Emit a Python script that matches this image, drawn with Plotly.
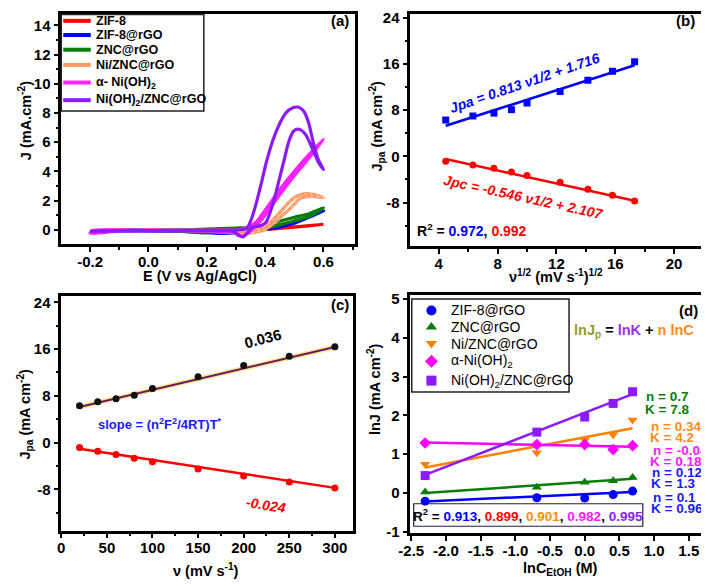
import plotly.graph_objects as go

W, H = 709, 586
OFF = 8  # the page body margin shifts the figure by this many pixels
FONT = "Liberation Sans"

# ---------------- Panel (a): cyclic voltammograms (E / V, J / mA cm-2) ----------------
ZIF8_E = [-0.20, -0.10, 0.00, 0.10, 0.20, 0.30, 0.35, 0.40, 0.45, 0.50, 0.55, 0.60,
          0.50, 0.40, 0.30, 0.20, 0.10, 0.00, -0.10, -0.20]
ZIF8_J = [-0.05, -0.03, -0.02, -0.02, -0.03, -0.02, 0.00, 0.05, 0.12, 0.20, 0.28, 0.38,
          0.18, 0.02, -0.06, -0.06, -0.05, -0.05, -0.05, -0.05]

ZIF8RGO_E = [-0.20, -0.10, 0.00, 0.10, 0.20, 0.25, 0.30, 0.35, 0.40, 0.45, 0.50, 0.55, 0.60,
             0.50, 0.40, 0.30, 0.20, 0.10, 0.00, -0.10, -0.20]
ZIF8RGO_J = [-0.10, -0.08, -0.08, -0.10, -0.20, -0.25, -0.22, -0.10, 0.07, 0.25, 0.50, 0.85, 1.30,
             0.45, 0.02, -0.15, -0.15, -0.10, -0.08, -0.08, -0.10]

ZNC_E = [-0.20, -0.10, 0.00, 0.10, 0.20, 0.30, 0.35, 0.40, 0.45, 0.50, 0.55, 0.60,
         0.55, 0.50, 0.45, 0.40, 0.35, 0.30, 0.20, 0.10, 0.00, -0.10, -0.20]
ZNC_J = [-0.05, -0.05, -0.05, -0.02, 0.05, 0.12, 0.15, 0.35, 0.60, 0.85, 1.10, 1.50,
         0.90, 0.60, 0.35, 0.12, 0.00, -0.10, -0.20, -0.10, -0.05, -0.05, -0.05]

NIZNC_E = [-0.20, -0.10, 0.00, 0.10, 0.20, 0.30, 0.35, 0.38, 0.40, 0.42, 0.44, 0.46, 0.48, 0.50,
           0.52, 0.54, 0.56, 0.58, 0.60,
           0.58, 0.56, 0.54, 0.52, 0.50, 0.48, 0.46, 0.44, 0.42, 0.40, 0.37, 0.34, 0.32, 0.30,
           0.20, 0.10, 0.00, -0.10, -0.20]
NIZNC_J = [-0.05, -0.05, -0.05, -0.05, -0.05, -0.10, -0.05, 0.05, 0.25, 0.55, 0.95, 1.40, 1.85, 2.20,
           2.40, 2.48, 2.45, 2.35, 2.20,
           2.25, 2.30, 2.25, 2.15, 1.75, 1.35, 1.00, 0.60, 0.30, 0.00, -0.15, -0.25, -0.30, -0.20,
           -0.10, -0.05, -0.05, -0.05, -0.05]

ANIOH_E = [-0.20, -0.19, -0.10, 0.00, 0.10, 0.20, 0.30, 0.34, 0.37, 0.40, 0.45, 0.50, 0.55, 0.60,
           0.55, 0.50, 0.45, 0.40, 0.37, 0.34, 0.32, 0.30, 0.20, 0.10, 0.00, -0.10, -0.20]
ANIOH_J = [-0.25, -0.05, -0.02, -0.02, -0.02, -0.02, 0.00, 0.15, 0.55, 1.35, 2.75, 4.00, 5.15, 6.20,
           4.90, 3.70, 2.40, 1.00, 0.30, -0.25, -0.45, -0.20, -0.08, -0.06, -0.06, -0.08, -0.25]

NIOHZNC_E = [-0.20, -0.10, 0.00, 0.10, 0.20, 0.30, 0.336, 0.353, 0.370, 0.387, 0.403, 0.426, 0.448,
             0.471, 0.493, 0.516, 0.533, 0.549, 0.566, 0.583, 0.600,
             0.585, 0.572, 0.555, 0.538, 0.516, 0.499, 0.482, 0.465, 0.448, 0.431, 0.415, 0.403,
             0.387, 0.358, 0.336, 0.325, 0.308, 0.291, 0.20, 0.10, 0.00, -0.10, -0.20]
NIOHZNC_J = [-0.10, -0.05, -0.05, -0.05, -0.05, -0.02, 0.07, 0.74, 1.86, 3.20, 4.54, 6.10, 7.20,
             8.00, 8.34, 8.39, 8.10, 7.34, 5.90, 4.77, 4.14,
             4.54, 5.10, 5.88, 6.55, 6.89, 6.78, 6.10, 4.77, 3.42, 2.08, 1.07, 0.51,
             0.29, 0.18, -0.27, -0.49, -0.38, -0.11, -0.08, -0.08, -0.08, -0.08, -0.10]

A_NAMES = ["ZIF-8", "ZIF-8@rGO", "ZNC@rGO", "Ni/ZNC@rGO", "α- Ni(OH)<sub>2</sub>",
           "Ni(OH)<sub>2</sub>/ZNC@rGO"]
A_COLORS = ["#ff0000", "#0000ff", "#0a7d0a", "#ff9a66", "#ff22ff", "#8c1aff"]
A_XTICKS = [-0.2, 0.0, 0.2, 0.4, 0.6]
A_XTEXT = ["-0.2", "0.0", "0.2", "0.4", "0.6"]
A_YTICKS = [0, 2, 4, 6, 8, 10, 12, 14]

# ---------------- Panels (b) and (c): peak currents vs scan rate ----------------
SCAN_RATE = [20, 40, 60, 80, 100, 150, 200, 250, 300]
SQRT_SCAN = [4.47, 6.32, 7.75, 8.94, 10.0, 12.25, 14.14, 15.81, 17.32]
JPA = [6.3, 7.0, 7.5, 8.1, 9.25, 11.25, 13.2, 14.75, 16.4]
JPC = [-0.85, -1.5, -2.05, -2.7, -3.3, -4.5, -5.7, -6.75, -7.75]
B_FIT_X = [4.47, 17.32]
B_FIT_PA = [5.3, 15.8]
B_FIT_PC = [-0.45, -7.7]
C_FIT_X = [20, 300]
C_FIT_PA = [6.1, 16.35]
C_FIT_PC = [-1.05, -7.75]
BC_YTICKS = [-8, 0, 8, 16, 24]
BC_YTEXT = ["-8", "0", "8", "16", "24"]
B_XTICKS = [4, 8, 12, 16, 20]
C_XTICKS = [0, 50, 100, 150, 200, 250, 300]

# ---------------- Panel (d): ln J vs ln C ----------------
LNC = [-2.30, -0.69, 0.0, 0.41, 0.69]
D_NAMES = ["ZIF-8@rGO", "ZNC@rGO", "Ni/ZNC@rGO", "α-Ni(OH)<sub>2</sub>", "Ni(OH)<sub>2</sub>/ZNC@rGO"]
D_COLORS = ["#0000ff", "#0a7d0a", "#ff8000", "#ff00ff", "#8c1aff"]
D_SYMBOLS = ["circle", "triangle-up", "triangle-down", "diamond", "square"]
D_ZIF = [-0.21, -0.12, -0.13, -0.04, 0.05]
D_ZNC = [0.03, 0.15, 0.28, 0.32, 0.40]
D_NIZNC = [0.74, 1.04, 1.36, 1.50, 1.88]
D_ANIOH = [1.29, 1.25, 1.25, 1.12, 1.22]
D_NIOHZNC = [0.45, 1.57, 1.96, 2.31, 2.61]
D_FIT_X = [-2.30, 0.69]
D_FITS = [[-0.22, 0.03], [0.0, 0.37], [0.66, 1.67], [1.30, 1.19], [0.47, 2.55]]
D_XTICKS = [-2.5, -2.0, -1.5, -1.0, -0.5, 0.0, 0.5, 1.0, 1.5]
D_XTEXT = ["-2.5", "-2.0", "-1.5", "-1.0", "-0.5", "0.0", "0.5", "1.0", "1.5"]
D_YTICKS = [-1, 0, 1, 2, 3, 4, 5]
D_YTEXT = ["-1", "0", "1", "2", "3", "4", "5"]
D_NK_TEXT = ["n = 0.7", "K = 7.8", "n = 0.34", "K = 4.2", "n = -0.04", "K = 0.18",
             "n = 0.12", "K = 1.3", "n = 0.1", "K = 0.96"]
D_NK_COLORS = ["#0a7d0a", "#0a7d0a", "#ff8c1a", "#ff8c1a", "#ff1aff", "#ff1aff",
               "#1a1aff", "#1a1aff", "#1a1aff", "#1a1aff"]

# ---------------- layout geometry (window pixels) ----------------
TOPMIN = 9.5
FRAMES = {  # left, top, right, bottom
    "a": (50, TOPMIN, 349, 244),
    "b": (405, TOPMIN, 705, 246),
    "c": (50, 296.5, 346.5, 536.5),
    "d": (405, 296, 703, 539),
}
# axis calibration: (value1, pixel1, value2, pixel2)
CAL_X = {"a": (-0.2, 79.3, 0.6, 316.7), "b": (4, 434, 20, 673.3),
         "c": (0, 50, 300, 328.3), "d": (-2.5, 406, 1.5, 688.3)}
CAL_Y = {"a": (0, 229.3, 14, 20.7), "b": (-8, 200.7, 24, 9.0),
         "c": (-8, 494.3, 24, 303.3), "d": (-1, 537.7, 5, 300)}


def lin(cal, p):
    v1, p1, v2, p2 = cal
    return v1 + (p - p1) * (v2 - v1) / (p2 - p1)


def xdom(k):
    l, t, r, b = FRAMES[k]
    return [(l - OFF) / W, (r - OFF) / W]


def ydom(k):
    l, t, r, b = FRAMES[k]
    return [1 - (b - OFF) / H, 1 - (t - OFF) / H]


def xrng(k):
    l, t, r, b = FRAMES[k]
    return [lin(CAL_X[k], l), lin(CAL_X[k], r)]


def yrng(k):
    l, t, r, b = FRAMES[k]
    return [lin(CAL_Y[k], b), lin(CAL_Y[k], t)]


fig = go.Figure()


def add_line(x, y, color, width, xa, ya, shape="linear", dash="solid", opacity=1.0):
    fig.add_trace(go.Scatter(x=x, y=y, mode="lines", xaxis=xa, yaxis=ya, showlegend=False,
                             hoverinfo="skip", opacity=opacity,
                             line=dict(color=color, width=width, shape=shape, dash=dash,
                                       smoothing=0.7 if shape == "spline" else None)))


def add_markers(x, y, color, symbol, size, xa, ya):
    fig.add_trace(go.Scatter(x=x, y=y, mode="markers", xaxis=xa, yaxis=ya, showlegend=False,
                             hoverinfo="skip", cliponaxis=False,
                             marker=dict(color=color, symbol=symbol, size=size, line=dict(width=0))))


# Panel (a)
A_SERIES = [(ZIF8_E, ZIF8_J), (ZIF8RGO_E, ZIF8RGO_J), (ZNC_E, ZNC_J), (NIZNC_E, NIZNC_J),
            (ANIOH_E, ANIOH_J), (NIOHZNC_E, NIOHZNC_J)]
for i, (e, j) in enumerate(A_SERIES):
    add_line(e, j, A_COLORS[i], 3.2, "x", "y", shape="spline")
    if i == 3:
        add_line(e, j, "#ffd2b8", 1.0, "x", "y", shape="spline", dash="dot")

# Panel (b)
add_line(B_FIT_X, B_FIT_PA, "#0000ff", 2.5, "x2", "y2")
add_line(B_FIT_X, B_FIT_PC, "#ff0000", 2.5, "x2", "y2")
add_markers(SQRT_SCAN, JPA, "#0000ff", "square", 7, "x2", "y2")
add_markers(SQRT_SCAN, JPC, "#ff0000", "circle", 7, "x2", "y2")

# Panel (c)
add_line(C_FIT_X, C_FIT_PA, "#ecec90", 5, "x3", "y3")
add_line(C_FIT_X, C_FIT_PA, "#7a1060", 2, "x3", "y3")
add_line(C_FIT_X, C_FIT_PC, "#ff0000", 2.5, "x3", "y3")
add_markers(SCAN_RATE, JPA, "#111111", "circle", 7, "x3", "y3")
add_markers(SCAN_RATE, JPC, "#ff0000", "circle", 7, "x3", "y3")

# Panel (d)
D_SERIES = [D_ZIF, D_ZNC, D_NIZNC, D_ANIOH, D_NIOHZNC]
for i, ys in enumerate(D_SERIES):
    add_line(D_FIT_X, D_FITS[i], D_COLORS[i], 2.5, "x4", "y4")
for i, ys in enumerate(D_SERIES):
    add_markers(LNC, ys, D_COLORS[i], D_SYMBOLS[i], 9, "x4", "y4")

# Legend markers for (d) on a pixel overlay axis
D_LEG_X = 426.5
D_LEG_Y = [311.7, 328.5, 345.5, 363.5, 383.3]
for i in range(5):
    add_markers([D_LEG_X], [D_LEG_Y[i]], D_COLORS[i], D_SYMBOLS[i], 10, "x5", "y5")


def axis(rng, tickvals, ticktext=None, minor=None, standoff=0):
    d = dict(range=rng, showline=True, linecolor="black", linewidth=2.5, mirror=True,
             ticks="outside", ticklen=5, tickwidth=2, tickcolor="black",
             tickmode="array", tickvals=tickvals,
             ticktext=ticktext if ticktext is not None else [str(v) for v in tickvals],
             tickfont=dict(family=FONT, size=15, color="black", weight="bold"),
             ticklabelstandoff=standoff,
             showgrid=False, zeroline=False, fixedrange=True)
    if minor is not None:
        d["minor"] = dict(tickmode="array", tickvals=minor, ticks="outside", ticklen=3,
                          tickwidth=1.5, tickcolor="black", showgrid=False)
    return d


layout = dict(
    width=W, height=H, autosize=False, margin=dict(l=0, r=0, t=0, b=0),
    paper_bgcolor="white", plot_bgcolor="rgba(0,0,0,0)", showlegend=False,
    font=dict(family=FONT, color="black"),
)
XSO = -3
layout["xaxis"] = dict(domain=xdom("a"), anchor="y",
                       **axis(xrng("a"), A_XTICKS, A_XTEXT, [-0.3, -0.1, 0.1, 0.3, 0.5, 0.7],
                              XSO))
layout["yaxis"] = dict(domain=ydom("a"), anchor="x",
                       **axis(yrng("a"), A_YTICKS, None, [1, 3, 5, 7, 9, 11, 13]))
layout["xaxis2"] = dict(domain=xdom("b"), anchor="y2",
                        **axis(xrng("b"), B_XTICKS, None, [6, 10, 14, 18, 22], XSO))
layout["yaxis2"] = dict(domain=ydom("b"), anchor="x2",
                        **axis([-15.56, 24.6], BC_YTICKS, BC_YTEXT, [-12, -4, 4, 12, 20]))
layout["xaxis3"] = dict(domain=xdom("c"), anchor="y3",
                        **axis(xrng("c"), C_XTICKS, None, [25, 75, 125, 175, 225, 275], XSO))
layout["yaxis3"] = dict(domain=ydom("c"), anchor="x3",
                        **axis(yrng("c"), BC_YTICKS, BC_YTEXT, [-12, -4, 4, 12, 20]))
layout["xaxis4"] = dict(domain=xdom("d"), anchor="y4",
                        **axis(xrng("d"), D_XTICKS, D_XTEXT, None, XSO))
layout["yaxis4"] = dict(domain=ydom("d"), anchor="x4",
                        **axis(yrng("d"), D_YTICKS, D_YTEXT))
# overlay axis in window-pixel coordinates (for legends and labels)
layout["xaxis5"] = dict(domain=[0, 1], range=[OFF, W + OFF], visible=False, anchor="y5",
                        fixedrange=True)
layout["yaxis5"] = dict(domain=[0, 1], range=[H + OFF, OFF], visible=False, anchor="x5",
                        fixedrange=True)
fig.update_layout(**layout)

shapes = []
ann = []


def txt(x, y, text, size=13, color="black", bold=True, angle=0, xanchor="center",
        italic=False, ref=("x5", "y5")):
    ann.append(dict(x=x, y=y, xref=ref[0], yref=ref[1], text=text, showarrow=False,
                    xanchor=xanchor, yanchor="middle", textangle=angle,
                    font=dict(family=FONT, size=size, color=color,
                              weight="bold" if bold else "normal",
                              style="italic" if italic else "normal")))


# axis titles
TS = 14.5
txt(190.7, 277, "E (V vs Ag/AgCl)", TS)
txt(12.5, 118, "J (mA.cm<sup>-2</sup>)", TS, angle=-90)
txt(553, 277, "ν<sup>1/2</sup> (mV s<sup>-1</sup>)<sup>1/2</sup>", TS)
txt(371, 123, "J<sub>pa</sub> (mA cm<sup>-2</sup>)", TS, angle=-90)
txt(197, 577, "ν (mV s<sup>-1</sup>)", TS)
txt(13, 417, "J<sub>pa</sub> (mA cm<sup>-2</sup>)", TS, angle=-90)
txt(557.5, 576, "lnC<sub>EtOH</sub> (M)", TS)
txt(368, 392, "lnJ (mA cm<sup>-2</sup>)", TS, angle=-90)

# panel labels
txt(333, 16, "(a)", 15)
txt(685, 16, "(b)", 15)
txt(333, 306, "(c)", 15)
txt(688, 312, "(d)", 15)

# legend (a)
A_LEG_Y = [16, 30.5, 45.5, 61, 79, 97]
shapes.append(dict(type="rect", xref="x5", yref="y5", x0=50, y0=TOPMIN, x1=195, y1=108,
                   line=dict(color="#222222", width=1.5), fillcolor="rgba(0,0,0,0)"))
for i in range(6):
    shapes.append(dict(type="line", xref="x5", yref="y5", x0=52, x1=80, y0=A_LEG_Y[i],
                       y1=A_LEG_Y[i], line=dict(color=A_COLORS[i], width=4)))
    txt(83, A_LEG_Y[i], A_NAMES[i], 12.5, xanchor="left")

# legend (d)
shapes.append(dict(type="rect", xref="x5", yref="y5", x0=406.5, y0=300, x1=566.5, y1=395,
                   line=dict(color="#222222", width=1.5), fillcolor="rgba(0,0,0,0)"))
for i in range(5):
    txt(444, D_LEG_Y[i], D_NAMES[i], 14, bold=False, xanchor="left")

# panel (b) texts
txt(9.8, 12.7, "Jpa = 0.813 ν1/2 + 1.716", 14, "#0000ff", angle=-19, italic=True,
    ref=("x2", "y2"))
txt(9.75, -7.05, "Jpc = -0.546 ν1/2 + 2.107", 14, "#ff0000", angle=12.3, italic=True,
    ref=("x2", "y2"))
txt(410, 230, "R<sup>2</sup> = <span style='color:#0000ff'>0.972</span>, "
              "<span style='color:#ff0000'>0.992</span>", 14, xanchor="left")

# panel (c) texts
txt(221, 17.8, "0.036", 15, "black", angle=-14, ref=("x3", "y3"))
txt(224, -10.6, "-0.024", 14, "#ff0000", angle=9, italic=True, ref=("x3", "y3"))
txt(85, 428, "slope = (n<sup>2</sup>F<sup>2</sup>/4RT)T<sup>*</sup>", 13, "#1a1aff",
    xanchor="left")

# panel (d) texts
txt(633, 333, "<span style='color:#9a9a2a'>lnJ<sub>p</sub></span> = "
              "<span style='color:#9932e6'>lnK</span> + "
              "<span style='color:#ff8c1a'>n lnC</span>", 14.5)
D_NK_X = [643, 642, 648, 647, 650, 647, 649, 648, 650, 648]
D_NK_Y = [400, 412.7, 430, 441.7, 454.3, 466, 476.7, 488.3, 502.7, 514.3]
for i in range(len(D_NK_TEXT)):
    txt(D_NK_X[i], D_NK_Y[i], D_NK_TEXT[i], 13.5, D_NK_COLORS[i], xanchor="left")

shapes.append(dict(type="rect", xref="x5", yref="y5", x0=408.5, y0=509, x1=641.5, y1=532,
                   line=dict(color="#202040", width=1.2), fillcolor="rgba(0,0,0,0)"))
txt(525, 520.5, "R<sup>2</sup> = <span style='color:#0000ff'>0.913</span>, "
                "<span style='color:#ff0000'>0.899</span>, "
                "<span style='color:#ff8c1a'>0.901</span>, "
                "<span style='color:#ff1aff'>0.982</span>, "
                "<span style='color:#8c1aff'>0.995</span>", 13.5)

fig.update_layout(shapes=shapes, annotations=ann)
fig.write_html("out.html")
